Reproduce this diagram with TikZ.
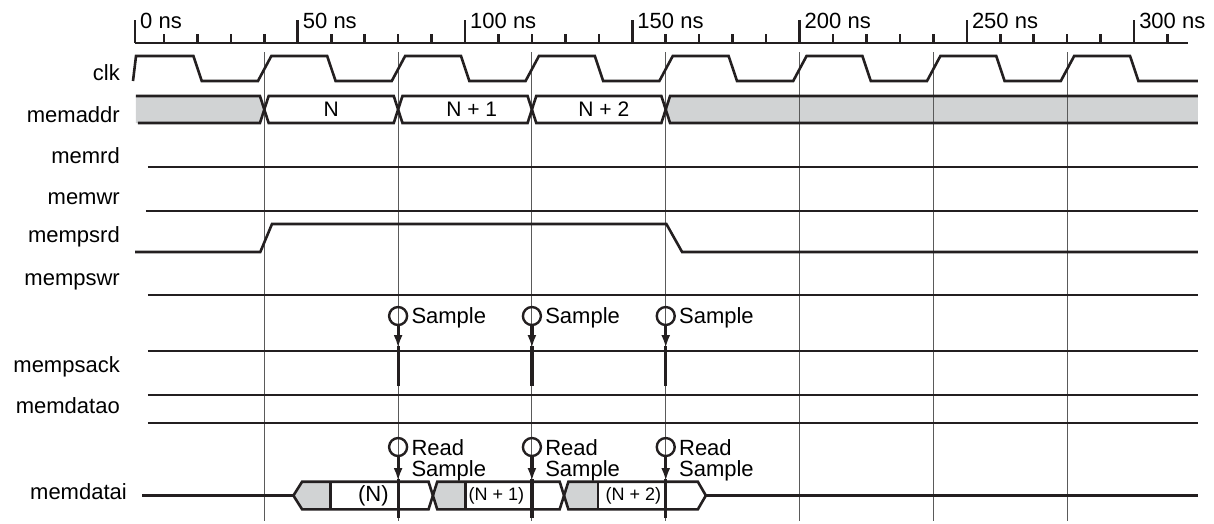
\documentclass[tikz,border=0pt]{standalone}
\usepackage{fontspec}
\setmainfont{Liberation Sans}
\usetikzlibrary{arrows.meta}
\definecolor{wire}{RGB}{35,31,32}
\definecolor{busgray}{RGB}{209,211,212}
\definecolor{gridgray}{RGB}{90,90,90}
\tikzset{
  sig/.style={draw=wire, line width=2.6pt, line join=miter},
  gridln/.style={draw=gridgray, line width=1pt},
  lbl/.style={anchor=base east, inner sep=0pt, font=\fontsize{22}{24}\selectfont},
  txt/.style={inner sep=0pt, font=\fontsize{22}{24}\selectfont},
  bustxt/.style={inner sep=0pt, font=\fontsize{21}{24}\selectfont},
  small/.style={inner sep=0pt, font=\fontsize{18}{20}\selectfont},
  probe/.style={circle, draw=wire, line width=2.4pt, minimum size=18pt, inner sep=0pt},
  probeln/.style={draw=wire, line width=3.2pt},
}
\begin{document}
\begin{tikzpicture}[x=3.345pt, y=-1pt]
  \useasboundingbox (-39.01,0) rectangle (323.9,523);
  % bus fills
  \fill[busgray] (1.64,96) -- (38.7,96) -- (40,109.5) -- (38.7,123) -- (1.64,123) -- cycle;
  \fill[busgray] (160,109.5) -- (161.3,96) -- (319.1,96) -- (319.1,123) -- (161.3,123) -- cycle;
  \fill[busgray] (48.7,495.5) -- (51.3,481.7) -- (59.7,481.7) -- (59.7,509.3) -- (51.3,509.3) -- cycle;
  \fill[busgray] (90.4,495.5) -- (91.7,481.7) -- (100.1,481.7) -- (100.1,509.3) -- (91.7,509.3) -- cycle;
  \fill[busgray] (129.6,495.5) -- (130.9,481.7) -- (139.7,481.7) -- (139.7,509.3) -- (130.9,509.3) -- cycle;
  \foreach \x in {40,80,...,280} \draw[gridln] (\x,52) -- (\x,521);
  % time scale
  \draw[sig] (1.35,43) -- (316.2,43);
  \foreach \x in {10,20,...,310} \draw[sig] (\x,34) -- (\x,43);
  \foreach \x/\t in {1.35/0,50/50,100/100,150/150,200/200,250/250,300/300} {
    \draw[sig] (\x,20) -- (\x,43);
    \node[txt, anchor=base west] at ([xshift=5pt]\x,28) (t\t) {\t\ ns};
  }
  % signal names
  \node[lbl] at (-3.14,80) (clk) {clk};
  \node[lbl] at (-3.14,122) (memaddr) {memaddr};
  \node[lbl] at (-3.14,163) (memrd) {memrd};
  \node[lbl] at (-3.14,204) (memwr) {memwr};
  \node[lbl] at (-3.14,242) (mempsrd) {mempsrd};
  \node[lbl] at (-3.14,285) (mempswr) {mempswr};
  \node[lbl] at (-3.14,372) (mempsack) {mempsack};
  \node[lbl] at (-3.14,413) (memdatao) {memdatao};
  \node[lbl] at (-1.05,499) (memdatai) {memdatai};
  % waveforms
  \draw[sig] (0.75,81) -- (1.65,56)
    \foreach \k in {0,...,6} { -- ({40*\k+18.8},56) -- ({40*\k+21.3},81) -- ({40*\k+38.1},81) -- ({40*\k+42.1},56) }
    -- (298.8,56) -- (301.3,81) -- (319.1,81);
  \draw[sig] (1.64,96) -- (38.7,96) -- (40,109.5) -- (38.7,123) -- (2.2,123);
  \foreach \a/\b in {40/80,80/120,120/160}
    \draw[sig] (\a,109.5) -- ({\a+1.3},96) -- ({\b-1.3},96) -- (\b,109.5) -- ({\b-1.3},123) -- ({\a+1.3},123) -- cycle;
  \draw[sig] (319.1,96) -- (161.3,96) -- (160,109.5) -- (161.3,123) -- (319.1,123);
  \node[bustxt] at (60,109.5) (an) {N};
  \node[bustxt] at (102,109.5) (an1) {N + 1};
  \node[bustxt] at (141.5,109.5) (an2) {N + 2};
  \draw[sig] (5.23,167) -- (319.1,167);
  \draw[sig] (4.63,211) -- (319.1,211);
  \draw[sig] (1.35,252) -- (38.8,252) -- (42.3,224) -- (160.2,224) -- (164.9,252) -- (319.1,252);
  \draw[sig] (5.23,295) -- (319.1,295);
  \draw[sig] (5.23,351) -- (319.1,351);
  \draw[sig] (5.23,395) -- (319.1,395);
  \draw[sig] (5.23,423) -- (319.1,423);
  \draw[sig] (3.44,495.5) -- (48.7,495.5);
  \foreach \a/\b/\p/\q in {48.7/90.4/2.6/1.3, 90.4/129.6/1.3/1.3, 129.6/172/1.3/2.4}
    \draw[sig] (\a,495.5) -- ({\a+\p},481.7) -- ({\b-\q},481.7) -- (\b,495.5) -- ({\b-\q},509.3) -- ({\a+\p},509.3) -- cycle;
  \foreach \x in {59.7,100.1,139.7} \draw[sig] (\x,481.7) -- (\x,509.3);
  \draw[sig] (172,495.5) -- (319.1,495.5);
  \node[txt] at (72.6,496) (dn) {(N)};
  \node[small] at (109.4,496) (dn1) {(N + 1)};
  \node[small] at (150.3,496) (dn2) {(N + 2)};
  % sample points
  \foreach \x in {80,120,160} {
    \node[probe] at (\x,316) (s\x) {};
    \node[txt, anchor=base west] at ([xshift=3pt,yshift=-7.5pt]s\x.east) (sl\x) {Sample};
    \draw[probeln, -{Latex[length=13pt,width=9pt]}] (s\x.south) -- (\x,348);
    \draw[probeln] (\x,346) -- (\x,386);
    \node[probe] at (\x,447) (r\x) {};
    \node[txt, anchor=base west] at ([xshift=3pt,yshift=-8pt]r\x.east) (rd\x) {Read};
    \node[txt, anchor=base west] at ([yshift=-21.7pt]rd\x.base west) (rs\x) {Sample};
    \draw[probeln, -{Latex[length=13pt,width=9pt]}] (r\x.south) -- (\x,481);
    \draw[probeln] (\x,479) -- (\x,518);
  }
\end{tikzpicture}
\end{document}
